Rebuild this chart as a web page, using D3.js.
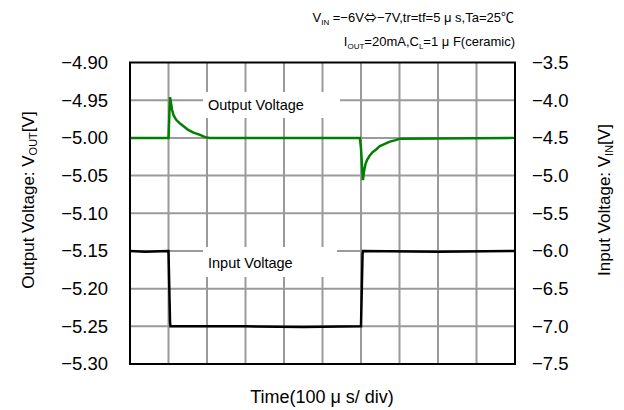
<!DOCTYPE html>
<html><head><meta charset="utf-8">
<script src="https://cdn.jsdelivr.net/npm/d3@7/dist/d3.min.js"></script>
<style>
html,body{margin:0;padding:0;background:#fff;}
text{font-family:"Liberation Sans",Arial,"Noto Sans CJK JP",sans-serif;fill:#000;}
</style></head>
<body><svg id="c" width="624" height="410"></svg>
<script>
// ---- data ----
const timeDomain = [0, 1000];               // µs (10 div x 100 µs)
const timeGrid = [100,200,300,400,500,600,700,800,900];
const voutTicks = [-4.90,-4.95,-5.00,-5.05,-5.10,-5.15,-5.20,-5.25,-5.30];
const vinTicks = [-3.5,-4.0,-4.5,-5.0,-5.5,-6.0,-6.5,-7.0,-7.5];
const voutTime = [0,100,102,104,106,109,113,120,130,140,150,165,182,195,207,597,600,603,605,608,612,616,622,629,640,649,662,675,690,701,1000];
const voutValue = [-5.000,-5.000,-4.972,-4.946,-4.952,-4.962,-4.970,-4.976,-4.981,-4.985,-4.989,-4.993,-4.996,-4.999,-5.000,-5.000,-5.014,-5.040,-5.056,-5.044,-5.034,-5.029,-5.024,-5.0196,-5.015,-5.011,-5.008,-5.005,-5.003,-5.001,-5.000];
const vinTime = [0,40,99,100,104,105,300,450,599,600,604,605,800,1000];
const vinValue = [-6.00,-6.01,-6.00,-6.00,-6.95,-7.00,-7.00,-7.01,-7.00,-7.00,-6.05,-6.00,-6.01,-6.00];

// ---- layout ----
const L = 130, R = 515, T = 62.5, B = 364;
const svg = d3.select("#c");
const x = d3.scaleLinear().domain(timeDomain).range([L, R]);
const yL = d3.scaleLinear().domain([-5.30, -4.90]).range([B, T]);
const yR = d3.scaleLinear().domain([-7.5, -3.5]).range([B, T]);

// grid
const g = svg.append("g");
g.selectAll(".vg").data(timeGrid).enter().append("line")
  .attr("x1", d => x(d)).attr("x2", d => x(d)).attr("y1", T).attr("y2", B)
  .attr("stroke", "#9a9a9a").attr("stroke-width", 2);
g.selectAll(".hg").data(voutTicks.slice(1, -1)).enter().append("line")
  .attr("x1", L).attr("x2", R).attr("y1", d => yL(d)).attr("y2", d => yL(d))
  .attr("stroke", "#9a9a9a").attr("stroke-width", 2);

// label boxes (white background)
svg.append("rect").attr("x", 203).attr("y", 92).attr("width", 137).attr("height", 26).attr("fill", "#fff");
svg.append("rect").attr("x", 203).attr("y", 247).attr("width", 134).attr("height", 30).attr("fill", "#fff");
svg.append("text").attr("x", 208).attr("y", 110).attr("font-size", 14.5).text("Output Voltage");
svg.append("text").attr("x", 208).attr("y", 268).attr("font-size", 14.5).text("Input Voltage");

// traces
const lineIn = d3.line().x((d, i) => x(vinTime[i])).y(d => yR(d));
svg.append("path").attr("d", lineIn(vinValue)).attr("fill", "none")
  .attr("stroke", "#000").attr("stroke-width", 2.5);
const lineOut = d3.line().x((d, i) => x(voutTime[i])).y(d => yL(d));
svg.append("path").attr("d", lineOut(voutValue)).attr("fill", "none")
  .attr("stroke", "#008000").attr("stroke-width", 2.5);

// frame
svg.append("rect").attr("x", L).attr("y", T).attr("width", R - L).attr("height", B - T)
  .attr("fill", "none").attr("stroke", "#000").attr("stroke-width", 2);

// axes (labels only)
const axL = d3.axisLeft(yL).tickValues(voutTicks).tickSize(0).tickPadding(22)
  .tickFormat(d => d3.format(".2f")(d).replace("-", "\u2212"));
const gl = svg.append("g").attr("transform", `translate(${L},0)`).call(axL);
const axR = d3.axisRight(yR).tickValues(vinTicks).tickSize(0).tickPadding(17)
  .tickFormat(d => d3.format(".1f")(d).replace("-", "\u2212"));
const gr = svg.append("g").attr("transform", `translate(${R},0)`).call(axR);
[gl, gr].forEach(a => {
  a.select(".domain").remove();
  a.selectAll("text").attr("font-size", 18.5).attr("font-family", null).attr("fill", "#000");
  a.attr("font-family", null);
});

// axis titles
const tl = svg.append("text").attr("transform", "translate(34,200) rotate(-90)")
  .attr("text-anchor", "middle").attr("font-size", 17);
tl.append("tspan").text("Output Voltage: V");
tl.append("tspan").attr("font-size", 11).attr("dy", 3).text("OUT");
tl.append("tspan").attr("dy", -3).text("[V]");
const tr = svg.append("text").attr("transform", "translate(610,200) rotate(-90)")
  .attr("text-anchor", "middle").attr("font-size", 17);
tr.append("tspan").text("Input Voltage: V");
tr.append("tspan").attr("font-size", 11).attr("dy", 3).text("IN");
tr.append("tspan").attr("dy", -3).text("[V]");
svg.append("text").attr("x", 322).attr("y", 403).attr("text-anchor", "middle")
  .attr("font-size", 18).text("Time(100 \u03bc s/ div)");

// annotations
const a1 = svg.append("text").attr("x", 514).attr("y", 22).attr("text-anchor", "end").attr("font-size", 13);
a1.append("tspan").text("V");
a1.append("tspan").attr("font-size", 8).attr("dy", 3).text("IN");
a1.append("tspan").attr("dy", -3).text(" =\u22126V");
a1.append("tspan").attr("font-family", "Noto Sans CJK JP").text("\u21d4");
a1.append("tspan").text("\u22127V,tr=tf=5 \u03bc s,Ta=25");
a1.append("tspan").attr("font-family", "Noto Sans CJK JP").text("\u2103");
const a2 = svg.append("text").attr("x", 515).attr("y", 46).attr("text-anchor", "end").attr("font-size", 13);
a2.append("tspan").text("I");
a2.append("tspan").attr("font-size", 8).attr("dy", 3).text("OUT");
a2.append("tspan").attr("dy", -3).text("=20mA,C");
a2.append("tspan").attr("font-size", 8).attr("dy", 3).text("L");
a2.append("tspan").attr("dy", -3).text("=1 \u03bc F(ceramic)");
</script></body></html>
